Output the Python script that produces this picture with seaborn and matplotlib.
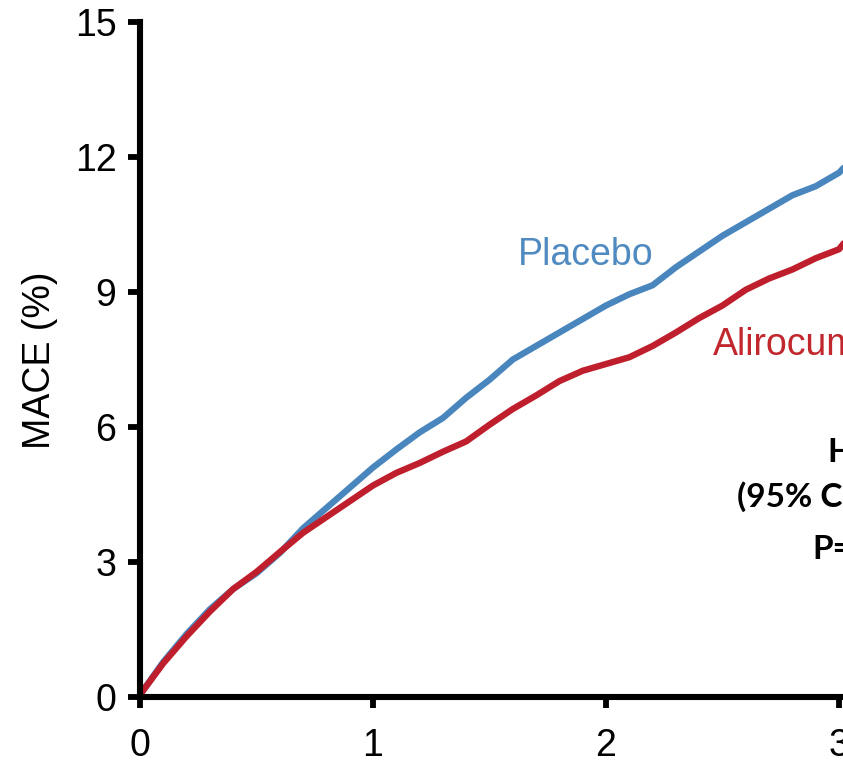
import numpy as np
import pandas as pd
import matplotlib
matplotlib.use("Agg")
import matplotlib.pyplot as plt
import seaborn as sns

# ---- data ----
years = [0.0, 0.1, 0.2, 0.3, 0.4, 0.5, 0.6, 0.7, 0.8, 0.9, 1.0,
         1.1, 1.2, 1.3, 1.4, 1.5, 1.6, 1.7, 1.8, 1.9, 2.0,
         2.1, 2.2, 2.3, 2.4, 2.5, 2.6, 2.7, 2.8, 2.9, 3.0, 3.02]
placebo = [0.05, 0.78, 1.40, 1.95, 2.40, 2.75, 3.20, 3.75, 4.20, 4.65, 5.10,
           5.50, 5.88, 6.20, 6.65, 7.05, 7.50, 7.80, 8.10, 8.40, 8.70,
           8.95, 9.15, 9.55, 9.90, 10.25, 10.55, 10.85, 11.15, 11.35, 11.65, 11.76]
alirocumab = [0.05, 0.75, 1.35, 1.90, 2.40, 2.78, 3.22, 3.65, 4.00, 4.35, 4.70,
              4.98, 5.20, 5.45, 5.68, 6.05, 6.40, 6.70, 7.02, 7.25, 7.40,
              7.55, 7.80, 8.10, 8.42, 8.70, 9.05, 9.30, 9.50, 9.75, 9.95, 10.08]
groups = ["Placebo", "Alirocumab"]
x_ticks = [0, 1, 2, 3]
y_ticks = [0, 3, 6, 9, 12, 15]
ylabel = "MACE (%)"
stats_lines = ["HR = 0.85", "(95% CI: 0.78\u20130.93)", "P=0.0003"]

df = pd.DataFrame({
    "year": years + years,
    "mace": placebo + alirocumab,
    "group": [groups[0]] * len(years) + [groups[1]] * len(years),
})

sns.set_style("ticks")
plt.rcParams["font.family"] = ["Liberation Sans", "DejaVu Sans"]
plt.rcParams["text.color"] = "black"
plt.rcParams["xtick.color"] = "black"
plt.rcParams["ytick.color"] = "black"
plt.rcParams["axes.labelcolor"] = "black"

BLUE = "#4A86BE"
RED = "#BF1F2C"

fig = plt.figure(figsize=(8.43, 7.81), dpi=100)
ax = fig.add_axes([140 / 843, 84 / 781, 703 / 843, 675 / 781])

sns.lineplot(data=df, x="year", y="mace", hue="group",
             palette={groups[0]: BLUE, groups[1]: RED},
             hue_order=[groups[0], groups[1]],
             linewidth=4.6, legend=False, ax=ax)

ax.set_xlim(0, 703 / 233)
ax.set_ylim(0, 15)
ax.set_xticks(x_ticks)
ax.set_yticks(y_ticks)
ax.set_xlabel("")
ax.set_ylabel("")

for s in ["top", "right"]:
    ax.spines[s].set_visible(False)
for s in ["left", "bottom"]:
    ax.spines[s].set_linewidth(4.4)
    ax.spines[s].set_color("black")

ax.tick_params(axis="y", direction="out", length=9, width=4.2,
               labelsize=27, pad=8, colors="black")
ax.tick_params(axis="x", direction="out", length=8, width=4.2,
               labelsize=27, pad=14, colors="black")

fig.text(40 / 843, 1 - 360 / 781, ylabel, rotation=90, ha="center",
         va="center", fontsize=27, color="black")

ax.text(1.622, 9.6, groups[0], color="#4F8AC1", fontsize=27,
        ha="left", va="baseline")
ax.text(2.459, 7.6, groups[1], color="#C1272D", fontsize=27,
        ha="left", va="baseline")

stat_x = [2.953, 2.562, 2.884]
stat_y = [5.22, 4.22, 3.07]
for txt, sx, sy in zip(stats_lines, stat_x, stat_y):
    ax.text(sx, sy, txt, fontsize=24, fontweight="bold",
            family=["Lato", "DejaVu Sans"], ha="left", va="baseline",
            color="black")

fig.savefig("out.png", dpi=100)
